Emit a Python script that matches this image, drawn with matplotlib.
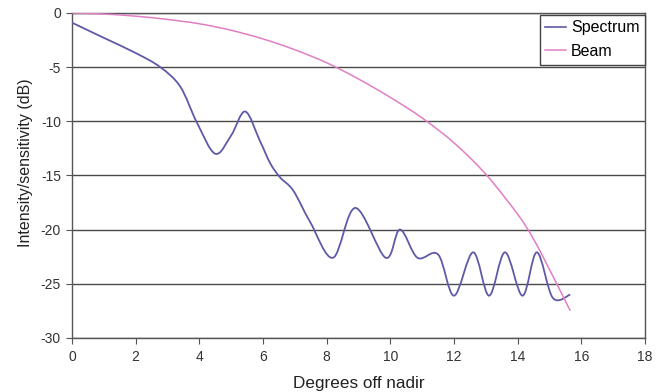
import numpy as np
import matplotlib.pyplot as plt
from matplotlib.path import Path
from matplotlib.patches import PathPatch
from matplotlib.lines import Line2D

plt.rcParams['font.family'] = ['Liberation Sans', 'DejaVu Sans']
plt.rcParams['axes.unicode_minus'] = False

# values
spec_x = [0, 1.0, 2.0, 2.77, 3.4, 3.92, 4.5, 5.0, 5.44, 5.9, 6.23, 6.54, 6.95, 7.48, 8.2,
          8.9, 9.85, 10.3, 10.85, 11.5, 12.0, 12.6, 13.1, 13.6, 14.15, 14.6, 15.1, 15.65]
spec_y = [-0.9, -2.3, -3.7, -5.0, -6.8, -10.1, -13.0, -11.3, -9.1, -11.8, -13.9, -15.2, -16.4, -19.3, -22.6,
          -18.0, -22.6, -20.0, -22.6, -22.3, -26.1, -22.1, -26.1, -22.1, -26.1, -22.1, -26.3, -26.0]

beam_x = [0, 1, 2, 3, 4, 5, 6, 7, 8, 9, 10, 11, 12, 13, 14, 14.5, 15, 15.65]
beam_y = [0, -0.1, -0.3, -0.6, -1.0, -1.6, -2.4, -3.4, -4.6, -6.1, -7.8, -9.7, -12.0, -14.9, -18.6, -20.9, -23.7, -27.5]

spec_color = '#5e5aa8'
beam_color = '#e17fc4'


def smooth_path(xs, ys):
    # excel style smoothed line: catmull-rom turned into cubic beziers
    p = np.column_stack([xs, ys]).astype(float)
    verts = [p[0]]
    codes = [Path.MOVETO]
    n = len(p)
    for i in range(n - 1):
        p0 = p[i - 1] if i > 0 else p[i]
        p1 = p[i]
        p2 = p[i + 1]
        p3 = p[i + 2] if i + 2 < n else p[i + 1]
        c1 = p1 + (p2 - p0) / 6.0
        c2 = p2 - (p3 - p1) / 6.0
        verts += [c1, c2, p2]
        codes += [Path.CURVE4] * 3
    return Path(verts, codes)


fig = plt.figure(figsize=(6.63, 3.92), dpi=100)
ax = fig.add_axes([0.1086, 0.138, 0.8644, 0.829])

ax.add_patch(PathPatch(smooth_path(spec_x, spec_y), facecolor='none',
                       edgecolor=spec_color, lw=1.3, zorder=3))
ax.add_patch(PathPatch(smooth_path(beam_x, beam_y), facecolor='none',
                       edgecolor=beam_color, lw=1.1, zorder=3))

ax.set_xlim(0, 18)
ax.set_ylim(-30, 0)
ax.set_xticks(range(0, 19, 2))
ax.set_yticks(range(-30, 1, 5))
ax.yaxis.grid(True, color='#4a4a4a', lw=1.0)
ax.set_axisbelow(True)
for s in ax.spines.values():
    s.set_color('#555555')
    s.set_linewidth(1.0)
ax.tick_params(direction='out', length=4, color='#555555', labelsize=10, labelcolor='#333333')
ax.tick_params(axis='x', pad=5)
ax.tick_params(axis='y', pad=4)

ax.set_xlabel('Degrees off nadir', fontsize=12.3, color='#222222', labelpad=8)
ax.set_ylabel('Intensity/sensitivity (dB)', fontsize=11.5, color='#222222')
ax.yaxis.set_label_coords(-0.068, 0.538)

handles = [Line2D([], [], color=spec_color, lw=1.2), Line2D([], [], color=beam_color, lw=1.1)]
leg = ax.legend(handles, ['Spectrum', 'Beam'], loc='upper right', bbox_to_anchor=(1.0, 0.995),
                fontsize=11.5, fancybox=False, framealpha=1, edgecolor='#444444',
                handlelength=1.3, handletextpad=0.3, borderaxespad=0, borderpad=0.35,
                labelspacing=0.55)
leg.get_frame().set_linewidth(1.0)

fig.savefig('out.png', dpi=100)
